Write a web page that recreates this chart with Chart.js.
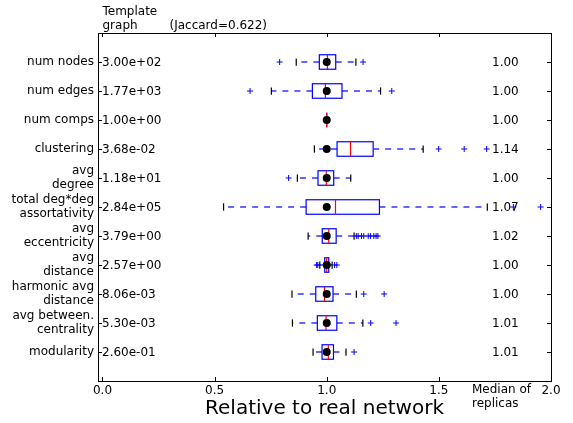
<!DOCTYPE html>
<html>
<head>
<meta charset="utf-8">
<script src="https://cdn.jsdelivr.net/npm/chart.js@4"></script>
<style>
  html, body { margin: 0; padding: 0; background: #fff; }
</style>
</head>
<body>
<canvas id="grafico" width="573" height="423"></canvas>
<script>
// rows, top to bottom
const metrics = ['num nodes', 'num edges', 'num comps', 'clustering', ['avg', 'degree'],
  ['total deg*deg', 'assortativity'], ['avg', 'eccentricity'], ['avg', 'distance'],
  ['harmonic avg', 'distance'], ['avg between.', 'centrality'], 'modularity'];
const realValues = ['3.00e+02', '1.77e+03', '1.00e+00', '3.68e-02', '1.18e+01', '2.84e+05',
  '3.79e+00', '2.57e+00', '8.06e-03', '5.30e-03', '2.60e-01'];
const medianLabels = ['1.00', '1.00', '1.00', '1.14', '1.00', '1.07', '1.02', '1.00', '1.00', '1.01', '1.01'];

// boxes, relative to real network
const whiskerLow = [0.864, 0.753, 1.0, 0.945, 0.869, 0.540, 0.917, 0.969, 0.845, 0.847, 0.939];
const q1 = [0.967, 0.936, 1.0, 1.046, 0.961, 0.908, 0.980, 0.991, 0.951, 0.958, 0.979];
const median = [1.003, 0.994, 1.0, 1.106, 0.998, 1.039, 1.009, 1.000, 0.990, 0.997, 1.007];
const q3 = [1.040, 1.068, 1.0, 1.207, 1.031, 1.235, 1.042, 1.009, 1.028, 1.045, 1.030];
const whiskerHigh = [1.130, 1.240, 1.0, 1.430, 1.107, 1.716, 1.122, 1.024, 1.132, 1.161, 1.086];
const outliers = [
  [0.790, 1.162],
  [0.658, 1.290],
  [],
  [1.499, 1.613, 1.713],
  [0.830],
  [1.832, 1.954],
  [1.132, 1.140, 1.155, 1.165, 1.185, 1.195, 1.210, 1.220, 1.228],
  [0.955, 0.960, 1.035, 1.045],
  [1.165, 1.256],
  [1.196, 1.309],
  [1.122]
];
const realRelative = [1, 1, 1, 1, 1, 1, 1, 1, 1, 1, 1];
const xTicks = [0, 0.5, 1.0, 1.5, 2.0];

const fonte = 'DejaVu Sans';
Chart.defaults.font.family = fonte;
Chart.defaults.font.size = 12;
Chart.defaults.color = '#000';

const crisp = v => Math.round(v) + 0.5;

function linha(c, x1, y1, x2, y2) {
  c.beginPath();
  c.moveTo(x1, y1);
  c.lineTo(x2, y2);
  c.stroke();
}

const caixas = {
  id: 'caixas',
  beforeDatasetsDraw(chart) {
    const c = chart.ctx;
    const x = chart.scales.x, y = chart.scales.y;
    const px = v => x.getPixelForValue(v);
    c.save();
    c.lineWidth = 1.2;
    metrics.forEach((m, i) => {
      const yc = y.getPixelForValue(i + 1);
      const hb = Math.abs(y.getPixelForValue(i + 1.25) - yc);
      const hc = hb / 2;
      // whiskers
      c.strokeStyle = 'rgb(0, 0, 255)';
      c.setLineDash([6, 6]);
      linha(c, px(q1[i]), yc, px(whiskerLow[i]), yc);
      linha(c, px(q3[i]), yc, px(whiskerHigh[i]), yc);
      c.setLineDash([]);
      // caps
      c.strokeStyle = 'rgb(0, 0, 0)';
      linha(c, px(whiskerLow[i]), yc - hc, px(whiskerLow[i]), yc + hc);
      linha(c, px(whiskerHigh[i]), yc - hc, px(whiskerHigh[i]), yc + hc);
      // box
      c.strokeStyle = 'rgb(0, 0, 255)';
      c.strokeRect(px(q1[i]), yc - hb, px(q3[i]) - px(q1[i]), 2 * hb);
      // median
      c.strokeStyle = 'rgb(255, 0, 0)';
      linha(c, px(median[i]), yc - hb, px(median[i]), yc + hb);
    });
    c.restore();
  },
  afterDraw(chart) {
    const c = chart.ctx, ca = chart.chartArea;
    const x = chart.scales.x, y = chart.scales.y;
    c.save();
    c.strokeStyle = '#000';
    c.lineWidth = 1;
    c.strokeRect(crisp(ca.left), crisp(ca.top), Math.round(ca.right - ca.left), Math.round(ca.bottom - ca.top));
    // inward tick marks
    metrics.forEach((m, i) => {
      const yc = crisp(y.getPixelForValue(i + 1));
      linha(c, ca.left, yc, ca.left + 4, yc);
      linha(c, ca.right, yc, ca.right - 4, yc);
    });
    xTicks.forEach(v => {
      const xp = crisp(x.getPixelForValue(v));
      linha(c, xp, ca.bottom, xp, ca.bottom - 4);
      linha(c, xp, ca.top, xp, ca.top + 4);
    });
    // texts
    c.fillStyle = '#000';
    c.font = '12px "' + fonte + '"';
    c.textBaseline = 'middle';
    c.textAlign = 'left';
    metrics.forEach((m, i) => {
      const yc = y.getPixelForValue(i + 1);
      c.fillText(realValues[i], ca.left + 4, yc + 1);
      c.fillText(medianLabels[i], ca.left + 394, yc + 1);
    });
    const x0 = x.getPixelForValue(0);
    c.fillText('Template', x0, 12);
    c.fillText('graph', x0, 26);
    c.fillText('(Jaccard=0.622)', x0 + 67, 26);
    c.fillText('Median of', ca.left + 374, 390);
    c.fillText('replicas', ca.left + 374, 404);
    c.restore();
  }
};

new Chart(document.getElementById('grafico'), {
  type: 'scatter',
  data: {
    datasets: [{
      label: 'real',
      data: realRelative.map((v, i) => ({ x: v, y: i + 1 })),
      pointRadius: 4,
      pointBackgroundColor: '#000',
      pointBorderWidth: 0
    }, {
      label: 'outliers',
      data: outliers.flatMap((lista, i) => lista.map(v => ({ x: v, y: i + 1 }))),
      pointStyle: 'cross',
      pointRadius: 3,
      pointBorderColor: '#0000ff',
      pointBorderWidth: 1
    }]
  },
  options: {
    responsive: false,
    animation: false,
    layout: {
      padding: { left: 0, top: 33, right: 22, bottom: 0 }
    },
    scales: {
      x: {
        type: 'linear',
        min: -0.02,
        max: 2.0,
        afterBuildTicks: s => { s.ticks = xTicks.map(v => ({ value: v })); },
        afterFit: s => { s.height = 42; },
        ticks: {
          autoSkip: false,
          maxRotation: 0,
          padding: 3,
          callback: v => v.toFixed(1)
        },
        grid: { drawOnChartArea: false, drawTicks: false },
        border: { display: true, color: '#000' },
        title: {
          display: true,
          text: 'Relative to real network',
          font: { size: 20 },
          padding: { top: 0, bottom: 2 }
        }
      },
      y: {
        type: 'linear',
        min: 0,
        max: 12,
        reverse: true,
        afterBuildTicks: s => { s.ticks = metrics.map((m, i) => ({ value: i + 1 })); },
        afterFit: s => { s.width = 98; },
        ticks: {
          autoSkip: false,
          padding: 4,
          font: { lineHeight: 1.15 },
          callback: (v, i) => metrics[i]
        },
        grid: { drawOnChartArea: false, drawTicks: false },
        border: { display: true, color: '#000' }
      }
    },
    plugins: {
      legend: { display: false },
      tooltip: { enabled: false }
    }
  },
  plugins: [caixas]
});
</script>
</body>
</html>
